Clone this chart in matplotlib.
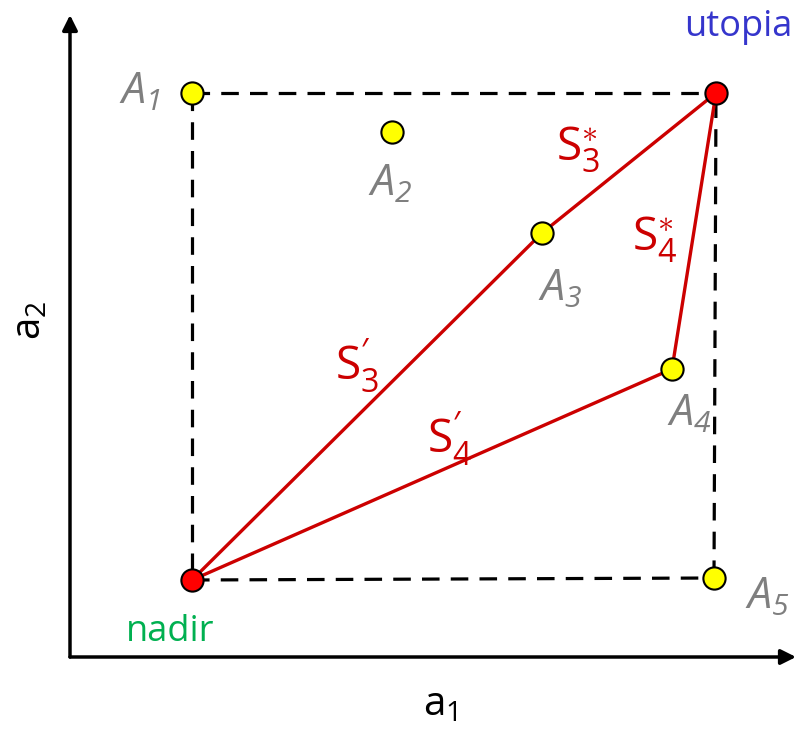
import matplotlib.pyplot as plt

plt.rcParams['font.family'] = ['Open Sans', 'DejaVu Sans']
plt.rcParams['mathtext.fontset'] = 'custom'
plt.rcParams['mathtext.rm'] = 'Open Sans'
plt.rcParams['mathtext.it'] = 'Open Sans:italic'
plt.rcParams['mathtext.sf'] = 'Open Sans:italic'

# точки альтернатив (a1, a2)
names = ['A1', 'A2', 'A3', 'A4', 'A5']
a1 = [122, 322, 472, 602, 644]
a2 = [564, 525, 424, 288, 79]
utopia = (646, 564)
nadir = (122, 77)

gray = '#7f7f7f'
red = '#cc0000'

fig = plt.figure(figsize=(7.96, 7.31), dpi=100)
ax = fig.add_axes([70 / 796, 74 / 731, 726 / 796, 657 / 731])
ax.set_xlim(0, 726)
ax.set_ylim(0, 657)
ax.axis('off')

# оси со стрелками
arrow = dict(arrowstyle='-|>,head_length=0.9,head_width=0.45', color='black', lw=2.5, shrinkA=0, shrinkB=0)
ax.annotate('', xy=(0, 642), xytext=(0, 0), arrowprops=arrow, annotation_clip=False)
ax.annotate('', xy=(726, 0), xytext=(0, 0), arrowprops=arrow, annotation_clip=False)

# пунктирный прямоугольник
x1, y1 = a1[0], a2[0]
x5, y5 = a1[4], a2[4]
dash = dict(color='black', lw=2.3, ls=(0, (5.5, 3.5)), zorder=2, clip_on=False)
ax.plot([x1, x1], [y1, nadir[1]], **dash)
ax.plot([nadir[0], x5], [nadir[1], y5], **dash)
ax.plot([x5, utopia[0]], [y5, utopia[1]], **dash)
ax.plot([x1, utopia[0]], [y1, utopia[1]], **dash)

# красные ломаные через A3 и A4
for i in (2, 3):
    ax.plot([nadir[0], a1[i], utopia[0]], [nadir[1], a2[i], utopia[1]],
            color=red, lw=2.4, zorder=3, clip_on=False)

# точки
ax.plot(a1, a2, 'o', ms=16, mfc='#ffff00', mec='black', mew=1.5, zorder=4, clip_on=False)
ax.plot([utopia[0], nadir[0]], [utopia[1], nadir[1]], 'o', ms=16, mfc='#ff0000',
        mec='black', mew=1.5, zorder=4, clip_on=False)

# подписи точек
offsets = [(-52, 0), (-2, -53), (18, -57), (18, -46), (54, -20)]
for n, x, y, off in zip(names, a1, a2, offsets):
    ax.annotate(r'$\mathsf{A}_{\mathsf{%s}}$' % n[1], xy=(x, y), xytext=off,
                textcoords='offset pixels', ha='center', va='center',
                fontsize=31, color=gray, annotation_clip=False)

ax.annotate('utopia', xy=utopia, xytext=(22, 66), textcoords='offset pixels',
            ha='center', va='center', fontsize=26, color='#3535cc', annotation_clip=False)
ax.annotate('nadir', xy=nadir, xytext=(-22, -52), textcoords='offset pixels',
            ha='center', va='center', fontsize=26, color='#00b050', annotation_clip=False)

# подписи отрезков
def mid(p, q):
    return ((p[0] + q[0]) / 2, (p[1] + q[1]) / 2)

A3 = (a1[2], a2[2])
A4 = (a1[3], a2[3])
seg_labels = [
    (r'$\mathrm{S}_{3}^{\ast}$', mid(A3, utopia), (-51, 13)),
    (r'$\mathrm{S}_{4}^{\ast}$', mid(A4, utopia), (-39, -9)),
    (r'$\mathrm{S}_{3}^{\prime}$', mid(nadir, A3), (-10, 41)),
    (r'$\mathrm{S}_{4}^{\prime}$', mid(nadir, A4), (18, 36)),
]
for txt, p, off in seg_labels:
    ax.annotate(txt, xy=p, xytext=off, textcoords='offset pixels',
                ha='center', va='center', fontsize=33, color=red, annotation_clip=False)

# подписи осей
fig.text(30 / 796, 1 - 320 / 731, r'$\mathrm{a}_{2}$', rotation=90, ha='center', va='center', fontsize=29)
fig.text(440 / 796, 1 - 705 / 731, r'$\mathrm{a}_{1}$', ha='center', va='center', fontsize=29)

fig.savefig('out.png', dpi=100)
